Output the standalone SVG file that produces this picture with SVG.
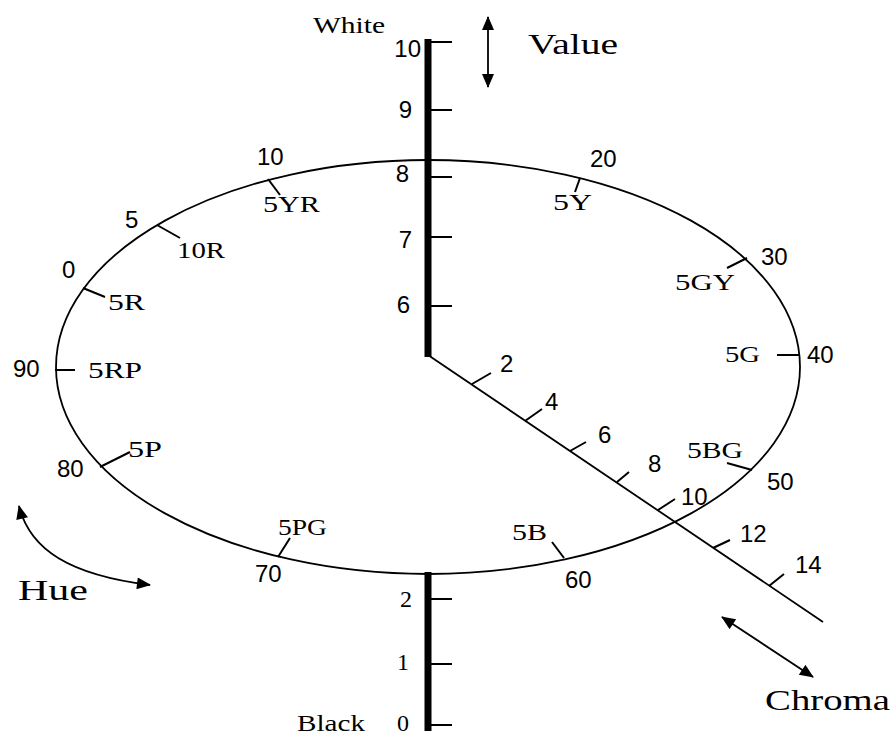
<svg xmlns="http://www.w3.org/2000/svg" width="894" height="738" viewBox="0 0 894 738">
<style>
.ln{stroke:#000;stroke-width:1.8;fill:none}
.tk{stroke:#000;stroke-width:2;fill:none}
.sans{font-family:"Liberation Sans",Arial,sans-serif;font-size:24px;fill:#000}
.ser{font-family:"Liberation Serif","Times New Roman",serif;font-size:24px;fill:#000}
.big{font-family:"Liberation Serif","Times New Roman",serif;font-size:29px;fill:#000}
</style>
<defs>
<marker id="ah" viewBox="0 0 14 12" refX="13" refY="6" markerWidth="15" markerHeight="12" markerUnits="userSpaceOnUse" orient="auto-start-reverse">
<path d="M0,0 L14,6 L0,12 z" fill="#000"/>
</marker>
</defs>
<rect width="894" height="738" fill="#fff"/>

<g id="hue-circle">
<ellipse class="ln" cx="428" cy="367" rx="372" ry="207"/>
</g>

<g id="value-axis">
<line x1="428" y1="39" x2="428" y2="357" stroke="#000" stroke-width="7"/>
<line x1="428" y1="572" x2="428" y2="731" stroke="#000" stroke-width="7"/>
<g class="tk">
<line x1="431" y1="42" x2="452" y2="42"/>
<line x1="431" y1="110" x2="452" y2="110"/>
<line x1="431" y1="177" x2="452" y2="177"/>
<line x1="431" y1="237" x2="452" y2="237"/>
<line x1="431" y1="306" x2="452" y2="306"/>
<line x1="431" y1="599" x2="452" y2="599"/>
<line x1="431" y1="664" x2="452" y2="664"/>
<line x1="431" y1="725" x2="452" y2="725"/>
</g>
<g class="sans" text-anchor="end">
<text x="421" y="57">10</text>
<text x="412" y="118">9</text>
<text x="409" y="182">8</text>
<text x="412" y="248">7</text>
<text x="410" y="313">6</text>
</g>
<g class="ser" text-anchor="end">
<text x="412" y="607">2</text>
<text x="409" y="670">1</text>
<text x="409" y="731">0</text>
</g>
<text class="ser" x="313" y="33" textLength="72" lengthAdjust="spacingAndGlyphs">White</text>
<text class="ser" x="297" y="731" textLength="68" lengthAdjust="spacingAndGlyphs">Black</text>
</g>

<g id="chroma-scale">
<line class="ln" x1="428" y1="355" x2="823" y2="622"/>
<g class="tk">
<line x1="472" y1="384" x2="491" y2="373"/>
<line x1="525" y1="421" x2="542" y2="409"/>
<line x1="570" y1="451" x2="586" y2="442"/>
<line x1="617" y1="482" x2="629" y2="472"/>
<line x1="658" y1="510" x2="675" y2="499"/>
<line x1="713" y1="548" x2="730" y2="540"/>
<line x1="769" y1="586" x2="784" y2="574"/>
</g>
<g class="sans">
<text x="500" y="372">2</text>
<text x="545" y="410">4</text>
<text x="598" y="443">6</text>
<text x="648" y="472">8</text>
<text x="681" y="505">10</text>
<text x="740" y="542">12</text>
<text x="795" y="573">14</text>
</g>
</g>

<g id="hue-marks">
<g class="tk">
<line x1="83" y1="288" x2="105" y2="297"/>
<line x1="157" y1="225" x2="180" y2="238"/>
<line x1="268" y1="179" x2="280" y2="195"/>
<line x1="580" y1="178" x2="575" y2="192"/>
<line x1="747" y1="258" x2="727" y2="268"/>
<line x1="800" y1="355" x2="777" y2="355"/>
<line x1="752" y1="470" x2="727" y2="463"/>
<line x1="564" y1="558" x2="552" y2="542"/>
<line x1="278" y1="557" x2="290" y2="538"/>
<line x1="100" y1="467" x2="130" y2="452"/>
<line x1="55" y1="370" x2="75" y2="370"/>
</g>
<g class="sans">
<text x="62" y="278">0</text>
<text x="125" y="228">5</text>
<text x="257" y="165">10</text>
<text x="590" y="167">20</text>
<text x="761" y="265">30</text>
<text x="807" y="363">40</text>
<text x="767" y="490">50</text>
<text x="565" y="588">60</text>
<text x="255" y="582">70</text>
<text x="57" y="477">80</text>
<text x="13" y="377">90</text>
</g>
<g class="ser">
<text x="108" y="310" textLength="37" lengthAdjust="spacingAndGlyphs">5R</text>
<text x="177" y="258" textLength="48" lengthAdjust="spacingAndGlyphs">10R</text>
<text x="263" y="212" textLength="57" lengthAdjust="spacingAndGlyphs">5YR</text>
<text x="553" y="210" textLength="39" lengthAdjust="spacingAndGlyphs">5Y</text>
<text x="675" y="290" textLength="60" lengthAdjust="spacingAndGlyphs">5GY</text>
<text x="725" y="362" textLength="35" lengthAdjust="spacingAndGlyphs">5G</text>
<text x="687" y="458" textLength="56" lengthAdjust="spacingAndGlyphs">5BG</text>
<text x="512" y="540" textLength="35" lengthAdjust="spacingAndGlyphs">5B</text>
<text x="278" y="535" textLength="49" lengthAdjust="spacingAndGlyphs">5PG</text>
<text x="128" y="457" textLength="34" lengthAdjust="spacingAndGlyphs">5P</text>
<text x="88" y="378" textLength="54" lengthAdjust="spacingAndGlyphs">5RP</text>
</g>
</g>

<g id="connectors">
<line class="ln" x1="488" y1="17" x2="488" y2="87" marker-start="url(#ah)" marker-end="url(#ah)"/>
<path class="ln" d="M19,506 C30,550 70,575 150,585" marker-start="url(#ah)" marker-end="url(#ah)"/>
<line class="ln" x1="722" y1="617" x2="813" y2="677" marker-start="url(#ah)" marker-end="url(#ah)"/>
</g>

<g id="axis-titles">
<text class="big" x="528" y="54" textLength="90" lengthAdjust="spacingAndGlyphs">Value</text>
<text class="big" x="18" y="600" textLength="70" lengthAdjust="spacingAndGlyphs">Hue</text>
<text class="big" x="765" y="710" textLength="125" lengthAdjust="spacingAndGlyphs">Chroma</text>
</g>
</svg>
